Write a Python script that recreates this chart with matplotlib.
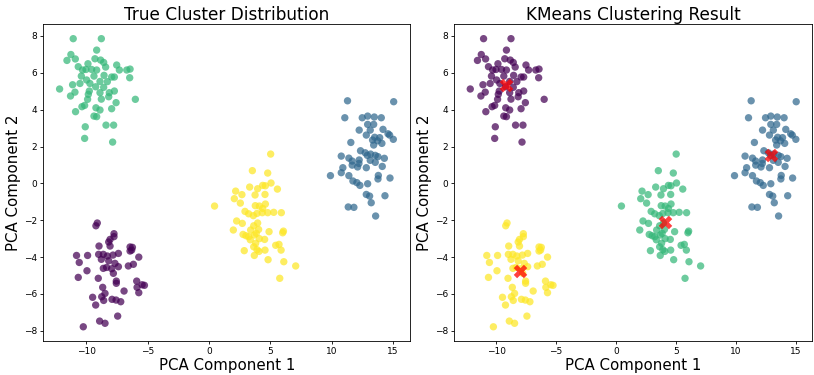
import matplotlib
matplotlib.use("Agg")
import matplotlib.pyplot as plt
import numpy as np

# Cluster A (true label 2, top-left)
a_x = [-11.05, -8.76, -9.14, -11.24, -11.56, -10.88, -9.28, -8.82, -8.57, -7.51,
       -10.64, -9.85, -8.41, -7.29, -6.69, -6.42, -10.29, -10.01, -9.55, -9.14,
       -10.39, -9.36, -8.54, -7.92, -7.70, -6.45, -9.96, -8.87, -8.27, -10.50,
       -9.69, -11.10, -9.22, -8.57, -12.16, -9.74, -7.70, -10.91, -8.87, -8.11,
       -11.27, -9.82, -8.16, -8.76, -5.99, -9.88, -7.56, -10.12, -10.34, -9.20,
       -7.92, -8.87, -10.86, -9.36, -9.14, -8.38, -7.76, -10.07, -10.12, -7.84]
a_y = [7.85, 7.85, 7.23, 6.99, 6.67, 6.75, 6.76, 6.69, 6.56, 6.42,
       6.33, 6.49, 6.31, 6.15, 6.15, 6.20, 6.15, 6.18, 6.18, 6.15,
       5.82, 5.82, 5.86, 5.77, 5.77, 5.73, 5.61, 5.53, 5.52, 5.42,
       5.42, 5.35, 5.24, 5.21, 5.12, 5.01, 5.01, 4.95, 4.92, 4.92,
       4.74, 4.83, 4.70, 4.57, 4.56, 4.56, 4.38, 4.23, 4.16, 4.10,
       4.05, 3.98, 3.89, 3.65, 3.62, 3.16, 3.16, 3.07, 2.44, 2.24]

# Cluster B (true label 1, right)
b_x = [11.29, 15.05, 11.07, 12.49, 12.93, 13.47, 14.04, 12.93, 13.42, 12.24,
       13.14, 14.18, 14.59, 14.72, 12.82, 13.50, 13.91, 13.33, 13.74, 15.02,
       14.09, 11.56, 13.42, 12.35, 12.73, 13.17, 13.55, 12.90, 10.78, 13.77,
       11.40, 14.29, 12.24, 13.14, 11.67, 12.22, 13.55, 14.12, 11.67, 10.91,
       12.82, 12.11, 9.90, 10.78, 11.40, 13.80, 13.77, 14.75, 11.73, 12.05,
       12.30, 12.93, 12.82, 13.09, 14.34, 11.35, 11.81, 13.22, 13.58]
b_y = [4.48, 4.43, 3.56, 3.56, 3.65, 3.60, 3.56, 3.20, 3.20, 2.89,
       2.89, 2.93, 2.69, 2.62, 2.62, 2.50, 2.48, 2.35, 2.31, 2.39,
       2.17, 2.22, 2.08, 1.77, 1.66, 1.59, 1.52, 1.52, 1.48, 1.45,
       1.37, 1.36, 1.27, 1.25, 1.21, 1.08, 1.14, 0.92, 0.99, 0.85,
       0.85, 0.89, 0.42, 0.58, 0.42, 0.43, 0.24, 0.29, 0.13, 0.04,
       -0.11, -0.02, -0.60, -0.69, -0.67, -1.28, -1.30, -1.05, -1.77]

# Cluster C (true label 3, middle)
c_x = [5.03, 3.54, 4.79, 3.32, 4.38, 5.06, 3.97, 4.60, 2.18, 2.69,
       3.76, 4.57, 5.58, 2.07, 0.46, 2.56, 4.60, 4.11, 3.78, 4.38,
       2.94, 3.24, 3.92, 4.35, 4.79, 5.28, 5.90, 3.62, 2.26, 2.72,
       3.97, 3.65, 1.99, 3.40, 4.05, 4.90, 6.07, 6.01, 2.78, 3.24,
       3.02, 3.86, 3.70, 4.54, 4.11, 3.37, 3.81, 5.44, 5.71, 3.65,
       2.88, 3.92, 4.57, 5.88, 4.08, 3.70, 4.82, 6.10, 7.07, 5.77]
c_y = [1.59, 0.69, 0.56, -0.20, -0.11, 0.02, -0.29, -0.13, -0.42, -0.61,
       -0.63, -0.60, -0.31, -0.83, -1.23, -1.07, -1.12, -1.23, -1.21, -1.36,
       -1.52, -1.65, -1.63, -1.59, -1.59, -1.57, -1.59, -1.75, -2.04, -2.17,
       -2.15, -2.30, -2.53, -2.53, -2.50, -2.62, -2.59, -2.68, -2.77, -2.89,
       -2.84, -2.71, -2.80, -3.04, -3.00, -3.06, -3.25, -3.36, -3.31, -3.44,
       -3.65, -3.60, -3.62, -3.62, -3.69, -3.91, -4.14, -4.25, -4.48, -5.15]

# Cluster D (true label 0, bottom-left)
d_x = [-9.09, -9.20, -7.73, -7.73, -8.05, -8.16, -8.05, -8.95, -6.42, -6.23,
       -6.29, -6.42, -8.60, -8.98, -10.78, -9.88, -7.37, -8.27, -7.81, -5.71,
       -10.56, -8.76, -8.16, -7.65, -6.56, -6.15, -7.37, -8.33, -8.60, -7.92,
       -9.93, -7.78, -10.64, -9.01, -7.54, -7.54, -5.88, -5.44, -5.25, -5.85,
       -8.65, -6.91, -5.71, -8.46, -9.47, -8.73, -7.89, -7.56, -7.18, -8.57,
       -9.22, -7.43, -8.90, -8.46, -10.23]
d_y = [-2.15, -2.30, -2.73, -2.89, -3.04, -3.18, -3.40, -3.40, -3.45, -3.47,
       -3.62, -3.67, -3.85, -3.85, -3.91, -3.91, -3.80, -3.94, -3.89, -4.00,
       -4.29, -4.12, -4.20, -4.34, -4.48, -4.39, -4.52, -4.56, -4.61, -4.63,
       -4.74, -4.88, -5.10, -5.15, -5.30, -5.42, -5.30, -5.50, -5.53, -5.64,
       -5.64, -5.84, -5.93, -5.97, -6.18, -6.15, -6.29, -6.33, -6.42, -6.35,
       -6.60, -7.20, -7.47, -7.59, -7.78]

# True labels and KMeans labels per cluster
true_labels = [2, 1, 3, 0]
kmeans_labels = [0, 1, 2, 3]

# KMeans centroids
cent_x = [-9.20, 12.98, 4.08, -8.00]
cent_y = [5.32, 1.52, -2.08, -4.74]

clusters_x = [a_x, b_x, c_x, d_x]
clusters_y = [a_y, b_y, c_y, d_y]

X = np.concatenate([np.array(v) for v in clusters_x])
Y = np.concatenate([np.array(v) for v in clusters_y])
lab_true = np.concatenate([np.full(len(v), l) for v, l in zip(clusters_x, true_labels)])
lab_km = np.concatenate([np.full(len(v), l) for v, l in zip(clusters_x, kmeans_labels)])

fig = plt.figure(figsize=(8.14, 3.75), dpi=100)
ax1 = fig.add_axes([0.053, 0.0907, 0.451, 0.845])
ax2 = fig.add_axes([0.558, 0.0907, 0.44, 0.845])

ax1.scatter(X, Y, c=lab_true, cmap='viridis', s=28, alpha=0.72, linewidths=0)
ax2.scatter(X, Y, c=lab_km, cmap='viridis', s=28, alpha=0.72, linewidths=0)
ax2.scatter(cent_x, cent_y, c='red', marker='X', s=95, alpha=0.75, linewidths=0)

for ax, title in [(ax1, 'True Cluster Distribution'), (ax2, 'KMeans Clustering Result')]:
    ax.set_xlim(-13.5, 16.4)
    ax.set_ylim(-8.55, 8.64)
    ax.set_xticks([-10, -5, 0, 5, 10, 15])
    ax.set_yticks([-8, -6, -4, -2, 0, 2, 4, 6, 8])
    ax.tick_params(labelsize=6.5, length=2.5, width=0.6, pad=2)
    ax.set_title(title, fontsize=12.2, pad=3)
    ax.set_xlabel('PCA Component 1', fontsize=10.8, labelpad=1)
    ax.set_ylabel('PCA Component 2', fontsize=10.8, labelpad=2)
    for sp in ax.spines.values():
        sp.set_linewidth(0.6)

fig.savefig('out.png', dpi=100)
